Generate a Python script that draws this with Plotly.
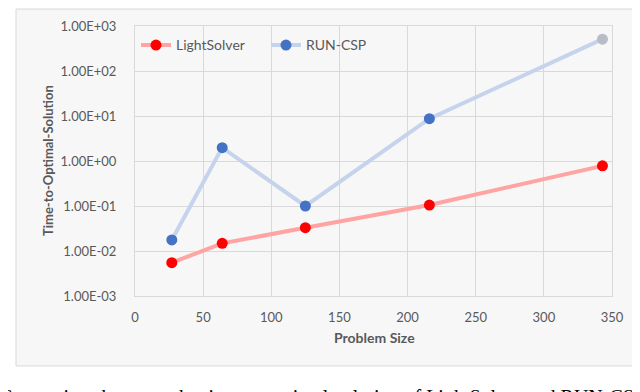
import plotly.graph_objects as go

# ---- data ----
problem_size = [27, 64, 125, 216, 343]
lightsolver = [0.0055, 0.0148, 0.033, 0.105, 0.78]
run_csp = [0.0176, 1.98, 0.10, 8.7, 510]
y_tick_vals = [1e-3, 1e-2, 1e-1, 1e0, 1e1, 1e2, 1e3]
y_tick_text = ["1.00E-03", "1.00E-02", "1.00E-01", "1.00E+00", "1.00E+01", "1.00E+02", "1.00E+03"]
x_tick_vals = [0, 50, 100, 150, 200, 250, 300, 350]
caption = "Comparison between the time-to-optimal-solution of LightSolver and RUN-CSP"

# the page body adds an 8px offset; work in window pixels and convert
OFF = 8
W, H = 640 - OFF, 392 - OFF
PL, PR, PT, PB = 135, 612, 18, 296   # plot area in window pixels
L, T = PL - OFF, PT - OFF
R = W - (PR - OFF)
B = H - (PB - OFF)
PW, PH = PR - PL, PB - PT

def px(x):
    return (x - PL) / PW

def py(y):
    return (PB - y) / PH

fig = go.Figure()
fig.add_trace(go.Scatter(
    x=problem_size, y=lightsolver, name="LightSolver", mode="lines+markers",
    line=dict(color="#ffa3a3", width=4),
    marker=dict(color="#ff0000", size=11),
))
run_colors = ["#4472c4"] * (len(run_csp) - 1) + ["#b8bcc6"]
fig.add_trace(go.Scatter(
    x=problem_size, y=run_csp, name="RUN-CSP", mode="lines+markers",
    line=dict(color="#c5d3ec", width=4),
    marker=dict(color=run_colors, size=11),
))

grid = "#d9d9d9"
tickfont = dict(family="Lato", size=13, color="#595959")
fig.update_xaxes(
    range=[0, 350], tickvals=x_tick_vals, showgrid=True, gridcolor=grid, gridwidth=1,
    zeroline=False, showline=True, linecolor=grid, mirror=True, ticks="",
    tickfont=tickfont, ticklabelstandoff=9,
)
fig.update_yaxes(
    type="log", range=[-3, 3], tickvals=y_tick_vals, ticktext=y_tick_text,
    showgrid=True, gridcolor=grid, gridwidth=1, zeroline=False, showline=True,
    linecolor=grid, mirror=True, ticks="", tickfont=tickfont, ticklabelstandoff=15,
)

fig.add_shape(type="rect", xref="paper", yref="paper",
              x0=px(16), x1=px(635), y0=py(368), y1=py(0.5),
              fillcolor="#f7f7f7", line=dict(color="#d9d9d9", width=1), layer="below")

fig.add_annotation(text="<b>Time-to-Optimal-Solution</b>", xref="paper", yref="paper",
                   x=px(48), y=py(157), xanchor="center", yanchor="middle",
                   textangle=-90, showarrow=False,
                   font=dict(family="Lato", size=13, color="#595959"))
fig.add_annotation(text="<b>Problem Size</b>", xref="paper", yref="paper",
                   x=px(374), y=py(339), xanchor="center", yanchor="middle", showarrow=False,
                   font=dict(family="Lato", size=14, color="#595959"))
fig.add_annotation(text=caption, xref="paper", yref="paper",
                   x=px(-3), y=py(387), xanchor="left", yanchor="top", showarrow=False,
                   font=dict(family="Liberation Serif", size=20, color="#000000"))

fig.update_layout(
    width=W, height=H, margin=dict(l=L, r=R, t=T, b=B),
    paper_bgcolor="white", plot_bgcolor="white",
    legend=dict(orientation="h", x=px(136), y=py(38), yanchor="middle", xanchor="left",
                bgcolor="rgba(0,0,0,0)", font=dict(family="Lato", size=14, color="#595959"),
                itemwidth=30, entrywidth=85),
    showlegend=True,
)

fig.write_html("out.html")
